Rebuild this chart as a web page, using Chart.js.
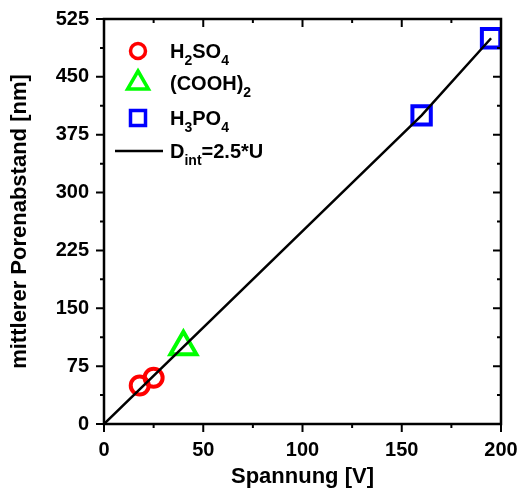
<!DOCTYPE html>
<html>
<head>
<meta charset="utf-8">
<script src="https://cdn.jsdelivr.net/npm/chart.js@4"></script>
<style>
  html, body { margin: 0; padding: 0; background: #fff; }
  #wrap { width: 520px; height: 490px; }
</style>
</head>
<body>
<div id="wrap"><canvas id="chart" width="520" height="490"></canvas></div>
<script>
// measured data (voltage U in V, pore spacing D in nm)
const h2so4U = [18, 25];
const h2so4D = [50, 60];
const oxalU = [40];
const oxalD = [100];
const h3po4U = [160, 195];
const h3po4D = [400, 500];
const fitU = [0, 160, 195];
const fitD = [0, 400, 500];

const xTicks = [0, 50, 100, 150, 200];
const yTicks = [0, 75, 150, 225, 300, 375, 450, 525];

// legend entries: [main, sub, main, sub ...]
const legendParts = [
  ['H', '2', 'SO', '4'],
  ['(COOH)', '2'],
  ['H', '3', 'PO', '4'],
  ['D', 'int', '=2.5*U']
];

const FONT = "'Liberation Sans', Arial, sans-serif";

const toPts = (xs, ys) => xs.map((x, i) => ({ x: x, y: ys[i] }));

// frame, ticks on all four sides and the legend
const framePlugin = {
  id: 'frame',
  afterDraw(chart) {
    const ctx = chart.ctx;
    const a = chart.chartArea;
    const xs = chart.scales.x, ys = chart.scales.y;
    ctx.save();
    ctx.strokeStyle = '#000';
    ctx.lineWidth = 2.5;
    ctx.strokeRect(a.left, a.top, a.right - a.left, a.bottom - a.top);

    ctx.lineWidth = 2;
    const major = 8, minor = 4;
    const xm = [], ym = [];
    for (let i = 0; i < xTicks.length - 1; i++) xm.push((xTicks[i] + xTicks[i + 1]) / 2);
    for (let i = 0; i < yTicks.length - 1; i++) ym.push((yTicks[i] + yTicks[i + 1]) / 2);

    ctx.beginPath();
    xTicks.forEach(v => {
      const p = xs.getPixelForValue(v);
      ctx.moveTo(p, a.bottom); ctx.lineTo(p, a.bottom + major);
      ctx.moveTo(p, a.top); ctx.lineTo(p, a.top + major);
    });
    xm.forEach(v => {
      const p = xs.getPixelForValue(v);
      ctx.moveTo(p, a.bottom); ctx.lineTo(p, a.bottom + minor);
      ctx.moveTo(p, a.top); ctx.lineTo(p, a.top + minor);
    });
    yTicks.forEach(v => {
      const p = ys.getPixelForValue(v);
      ctx.moveTo(a.left, p); ctx.lineTo(a.left - major, p);
      ctx.moveTo(a.right, p); ctx.lineTo(a.right - major, p);
    });
    ym.forEach(v => {
      const p = ys.getPixelForValue(v);
      ctx.moveTo(a.left, p); ctx.lineTo(a.left - minor, p);
      ctx.moveTo(a.right, p); ctx.lineTo(a.right - minor, p);
    });
    ctx.stroke();

    // legend
    const lx = a.left + 34, tx = a.left + 66;
    const rows = [51, 83, 118, 151];
    ctx.lineWidth = 3.5;
    ctx.strokeStyle = '#ff0000';
    ctx.beginPath(); ctx.arc(lx, rows[0], 7.5, 0, Math.PI * 2); ctx.stroke();
    ctx.strokeStyle = '#00ff00';
    ctx.beginPath();
    ctx.moveTo(lx, rows[1] - 12);
    ctx.lineTo(lx + 10.4, rows[1] + 6);
    ctx.lineTo(lx - 10.4, rows[1] + 6);
    ctx.closePath(); ctx.stroke();
    ctx.strokeStyle = '#0000ff';
    ctx.strokeRect(lx - 7.5, rows[2] - 7.5, 15, 15);
    ctx.strokeStyle = '#000';
    ctx.lineWidth = 2.5;
    ctx.beginPath(); ctx.moveTo(a.left + 11, rows[3]); ctx.lineTo(a.left + 59, rows[3]); ctx.stroke();

    ctx.fillStyle = '#000';
    ctx.textBaseline = 'alphabetic';
    legendParts.forEach((parts, r) => {
      let x = tx;
      const base = rows[r] + 7;
      parts.forEach((s, k) => {
        const sub = k % 2 === 1;
        ctx.font = 'bold ' + (sub ? 14 : 20) + 'px ' + FONT;
        ctx.fillText(s, x, sub ? base + 7 : base);
        x += ctx.measureText(s).width;
      });
    });
    ctx.restore();
  }
};

new Chart(document.getElementById('chart'), {
  type: 'scatter',
  data: {
    datasets: [
      {
        label: 'H2SO4',
        data: toPts(h2so4U, h2so4D),
        pointStyle: 'circle',
        pointRadius: 9,
        borderWidth: 4,
        borderColor: '#ff0000',
        backgroundColor: 'rgba(0,0,0,0)'
      },
      {
        label: '(COOH)2',
        data: toPts(oxalU, oxalD),
        pointStyle: 'triangle',
        pointRadius: 15,
        borderWidth: 4,
        borderColor: '#00ff00',
        backgroundColor: 'rgba(0,0,0,0)'
      },
      {
        label: 'H3PO4',
        data: toPts(h3po4U, h3po4D),
        pointStyle: 'rect',
        pointRadius: 13,
        borderWidth: 4,
        borderColor: '#0000ff',
        backgroundColor: 'rgba(0,0,0,0)'
      },
      {
        label: 'Dint=2.5*U',
        type: 'line',
        data: toPts(fitU, fitD),
        borderColor: '#000',
        borderWidth: 2.5,
        pointRadius: 0,
        fill: false,
        order: -1
      }
    ]
  },
  options: {
    responsive: false,
    animation: false,
    layout: { padding: { top: 18, right: 18, left: 0, bottom: 0 } },
    plugins: {
      legend: { display: false },
      tooltip: { enabled: false }
    },
    scales: {
      x: {
        type: 'linear',
        min: 0,
        max: 200,
        afterBuildTicks: s => { s.ticks = xTicks.map(v => ({ value: v })); },
        afterFit: s => { s.height = 66; s.paddingLeft = 0; s.paddingRight = 0; },
        grid: { display: false },
        border: { display: false },
        ticks: {
          padding: 6,
          color: '#000',
          maxRotation: 0,
          font: { family: FONT, size: 20, weight: 'bold' }
        },
        title: {
          display: true,
          text: 'Spannung [V]',
          color: '#000',
          padding: { top: 0, bottom: 0 },
          font: { family: FONT, size: 22, weight: 'bold' }
        }
      },
      y: {
        type: 'linear',
        min: 0,
        max: 525,
        afterBuildTicks: s => { s.ticks = yTicks.map(v => ({ value: v })); },
        afterFit: s => { s.width = 104; s.paddingTop = 0; s.paddingBottom = 0; },
        grid: { display: false },
        border: { display: false },
        ticks: {
          padding: 7,
          color: '#000',
          font: { family: FONT, size: 20, weight: 'bold' }
        },
        title: {
          display: true,
          text: 'mittlerer Porenabstand [nm]',
          color: '#000',
          padding: { top: 7, bottom: 0 },
          font: { family: FONT, size: 22, weight: 'bold' }
        }
      }
    }
  },
  plugins: [framePlugin]
});
</script>
</body>
</html>
